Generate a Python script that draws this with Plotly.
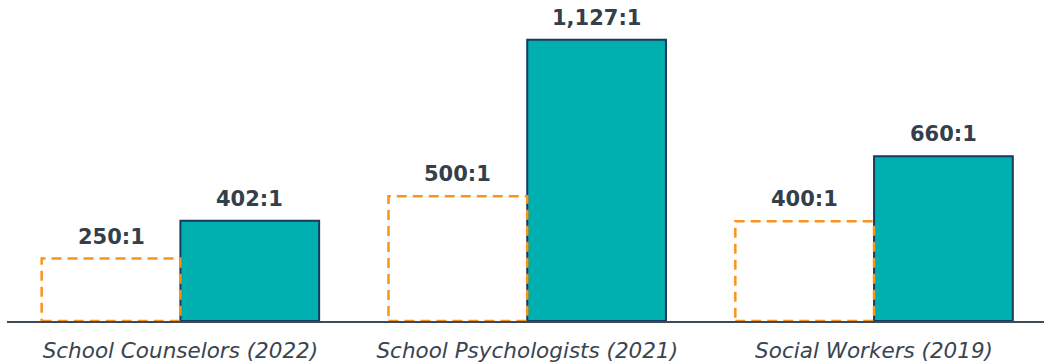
import plotly.graph_objects as go

categories = ["School Counselors (2022)", "School Psychologists (2021)", "Social Workers (2019)"]
recommended = [250, 500, 400]
actual = [402, 1127, 660]
recommended_labels = ["250:1", "500:1", "400:1"]
actual_labels = ["402:1", "1,127:1", "660:1"]

TEXT = "#333f4b"
FONT = "DejaVu Sans, Verdana, sans-serif"
ORANGE = "#f7941d"

fig = go.Figure()
# invisible bars keep the grouped slot for the recommended ratio
fig.add_trace(go.Bar(
    x=categories, y=recommended, name="Recommended",
    marker=dict(color="rgba(255,255,255,0)", line=dict(width=0)),
    hoverinfo="skip",
))
fig.add_trace(go.Bar(
    x=categories, y=actual, name="Actual",
    marker=dict(color="#00b0b0", line=dict(color="#173a5e", width=2)),
))

annotations = []
for i, (r, a, rl, al) in enumerate(zip(recommended, actual, recommended_labels, actual_labels)):
    annotations.append(dict(x=i - 0.2, y=r, xref="x", yref="y", text=f"<b>{rl}</b>",
                            showarrow=False, yanchor="bottom", yshift=8,
                            font=dict(family=FONT, size=21, color=TEXT)))
    annotations.append(dict(x=i + 0.2, y=a, xref="x", yref="y", text=f"<b>{al}</b>",
                            showarrow=False, yanchor="bottom", yshift=8,
                            font=dict(family=FONT, size=21, color=TEXT)))

fig.update_layout(
    width=1044, height=363,
    margin=dict(l=7, r=0, t=0, b=40),
    paper_bgcolor="white", plot_bgcolor="white",
    barmode="group", bargap=0.2, bargroupgap=0,
    showlegend=False,
    annotations=annotations,
    xaxis=dict(range=[-0.5, 2.49], showline=True, linecolor="#3d4b57", linewidth=2,
               ticks="outside", ticklen=9, tickcolor="rgba(0,0,0,0)", showgrid=False,
               tickfont=dict(family=FONT, size=21.5, color="#3a4450", style="italic")),
    yaxis=dict(range=[0, 1286], visible=False, showgrid=False, zeroline=False),
)

for i, r in enumerate(recommended):
    fig.add_shape(type="rect", xref="x", yref="y", x0=i - 0.4, x1=i, y0=0, y1=r,
                  line=dict(color=ORANGE, width=2.5, dash="10px,6px"),
                  fillcolor="rgba(0,0,0,0)", layer="above")

fig.write_html("out.html")
